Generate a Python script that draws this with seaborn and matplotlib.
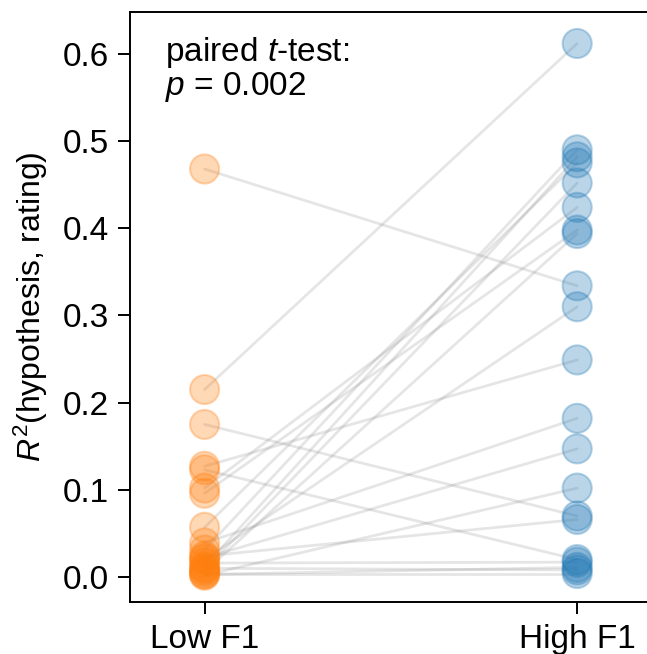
import numpy as np
import pandas as pd
import matplotlib
matplotlib.use("Agg")
import matplotlib.pyplot as plt
import seaborn as sns

# paired R^2 values, one entry per subject
low_f1 = [0.468, 0.215, 0.175, 0.127, 0.123, 0.102, 0.096, 0.057, 0.039, 0.031,
          0.022, 0.020, 0.024, 0.002, 0.016, 0.004, 0.012, 0.008, 0.006, 0.010, 0.003]
high_f1 = [0.334, 0.612, 0.070, 0.249, 0.020, 0.424, 0.398, 0.475, 0.182, 0.490,
           0.147, 0.310, 0.066, 0.102, 0.017, 0.004, 0.482, 0.452, 0.394, 0.008, 0.011]
groups = ['Low F1', 'High F1']
group_colors = ['#ff7f0e', '#1f77b4']
p_value = 0.002

sns.set_style('ticks', rc={'text.color': 'black', 'axes.labelcolor': 'black',
                           'xtick.color': 'black', 'ytick.color': 'black',
                           'axes.edgecolor': 'black'})
plt.rcParams['font.family'] = ['Liberation Sans', 'DejaVu Sans']
plt.rcParams['mathtext.fontset'] = 'custom'
plt.rcParams['mathtext.rm'] = 'Liberation Sans'
plt.rcParams['mathtext.it'] = 'Liberation Sans:italic'

df = pd.DataFrame({
    'group': [groups[0]] * len(low_f1) + [groups[1]] * len(high_f1),
    'r2': low_f1 + high_f1,
})

fig = plt.figure(figsize=(6.47, 6.54), dpi=100)
# axes runs past the right edge of the figure, like the cropped original
ax = fig.add_axes([0.201, 0.0795, 0.88, 0.902])

# connecting lines for each pair
for lo, hi in zip(low_f1, high_f1):
    ax.plot([0, 1], [lo, hi], color='gray', alpha=0.2, lw=2, zorder=1)

sns.stripplot(data=df, x='group', y='r2', hue='group', order=groups,
              palette=dict(zip(groups, group_colors)), jitter=False,
              size=21, alpha=0.3, linewidth=1.5,
              legend=False, ax=ax, zorder=2)
for c in ax.collections:
    c.set_edgecolor(c.get_facecolor())

# 373 px per category unit, first category 74 px from the left spine
ax.set_xlim(-0.2, 1.0 + (130 + 0.88 * 647 - 577) / 373)
ax.set_ylim(-0.0287, 0.648)
ax.set_yticks([0.0, 0.1, 0.2, 0.3, 0.4, 0.5, 0.6])
ax.set_xlabel('')
ax.set_ylabel('$R^2$(hypothesis, rating)', fontsize=23, labelpad=9)
ax.tick_params(labelsize=24, length=8.5, width=1.4, pad=7)
ax.spines['right'].set_visible(False)
for sp in ax.spines.values():
    sp.set_linewidth(1.4)

ax.text(0.062, 0.962, 'paired $t$-test:\n$p$ = %.3f' % p_value,
        transform=ax.transAxes, fontsize=24, va='top', ha='left',
        linespacing=1.0)

fig.savefig('out.png', dpi=100)
